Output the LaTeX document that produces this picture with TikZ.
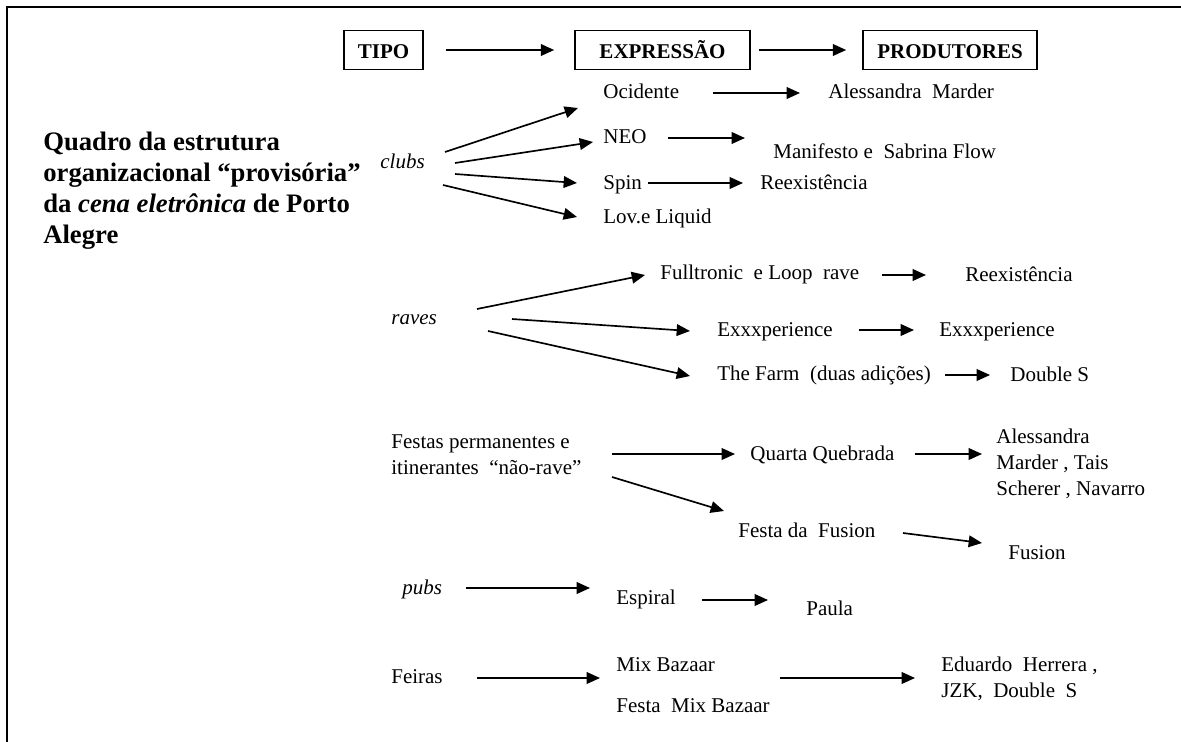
\documentclass[tikz,border=0pt]{standalone}
\usepackage{fontspec}
\setmainfont{Liberation Serif}
\usetikzlibrary{shapes,arrows.meta}
\tikzset{
    cabeca/.style = {draw,
                     rectangle,
                     line width=1pt,
                     minimum height=23.4pt,
                     inner sep=0pt,
                     text height=10.2pt,
                     text depth=0pt,
                     font=\bfseries\fontsize{12.6}{15}\selectfont
    },
    rotulo/.style = {inner sep=0pt,
                     anchor=base west,
                     font=\fontsize{12.6}{15.6}\selectfont
    },
    seta/.style = {-{Triangle[length=8pt,width=7pt]}, line width=1pt}
}

\begin{document}
\begin{tikzpicture}[x=0.6pt,y=-0.6pt]
    \useasboundingbox (0,0) rectangle (1181,742);
    \draw[line width=1.4pt] (7,742) -- (7,7) -- (1181,7);

    % cabecalho
    \node [cabeca, minimum width=47.4pt]  (tipo)  at (383.5,50) {TIPO};
    \node [cabeca, minimum width=105pt]   (expr)  at (662.5,50) {EXPRESSÃO};
    \node [cabeca, minimum width=104.4pt] (prod)  at (950,50)   {PRODUTORES};

    \draw[seta, shorten <=13.2pt, shorten >=12pt]  (tipo) -- (expr);
    \draw[seta, shorten <=4.8pt,  shorten >=9.6pt] (expr) -- (prod);

    \node [rotulo, anchor=west, align=left, font=\bfseries\fontsize{16}{18.6}\selectfont]
          (titulo) at (43,191) {Quadro da estrutura\\organizacional “provisória”\\da \textit{cena eletrônica} de Porto\\Alegre};

    % clubs
    \node [rotulo, font=\itshape\fontsize{12.6}{15.6}\selectfont] (clubs) at (380,168) {clubs};
    \node [rotulo] (ocid)     at (603,99)  {Ocidente};
    \node [rotulo] (almarder) at (828,99)  {Alessandra\ \ Marder};
    \node [rotulo] (neo)      at (603,144) {NEO};
    \node [rotulo] (manif)    at (773,158) {Manifesto e\ \ Sabrina Flow};
    \node [rotulo] (spin)     at (603,189) {Spin};
    \node [rotulo] (reexa)    at (760,189) {Reexistência};
    \node [rotulo] (lov)      at (603,223) {Lov.e Liquid};

    \draw[seta] ([shift={(65,-16)}]clubs.base west) -- ([shift={(-25,9)}]ocid.base west);
    \draw[seta] ([shift={(75,-5)}]clubs.base west)  -- ([shift={(-10,-2)}]neo.base west);
    \draw[seta] ([shift={(75,6)}]clubs.base west)   -- ([shift={(-26,-6)}]spin.base west);
    \draw[seta] ([shift={(63,17)}]clubs.base west)  -- ([shift={(-26,-6)}]lov.base west);
    \draw[seta] ([shift={(110,-6)}]ocid.base west)  -- ([shift={(-28,-6)}]almarder.base west);
    \draw[seta] ([shift={(65,-6)}]neo.base west)    -- ([shift={(-28,-20)}]manif.base west);
    \draw[seta] ([shift={(45,-6)}]spin.base west)   -- ([shift={(-17,-6)}]reexa.base west);

    % raves
    \node [rotulo, font=\itshape\fontsize{12.6}{15.6}\selectfont] (raves) at (391,324) {raves};
    \node [rotulo] (fullt)   at (660,279)  {Fulltronic\ \ e Loop\ \ rave};
    \node [rotulo] (reexb)   at (965,281)  {Reexistência};
    \node [rotulo] (exxp)    at (717,336)  {Exxxperience};
    \node [rotulo] (exxpb)   at (939,336)  {Exxxperience};
    \node [rotulo] (farm)    at (717,380)  {The Farm\ \ (duas adições)};
    \node [rotulo] (doubles) at (1010,381) {Double S};

    \draw[seta] ([shift={(86,-15)}]raves.base west) -- ([shift={(-15,-4)}]fullt.base west);
    \draw[seta] ([shift={(121,-5)}]raves.base west) -- ([shift={(-27,-5)}]exxp.base west);
    \draw[seta] ([shift={(97,7)}]raves.base west)   -- ([shift={(-27,-4)}]farm.base west);
    \draw[seta] ([shift={(222,-4)}]fullt.base west) -- ([shift={(-39,-6)}]reexb.base west);
    \draw[seta] ([shift={(142,-6)}]exxp.base west)  -- ([shift={(-25,-6)}]exxpb.base west);
    \draw[seta] ([shift={(228,-5)}]farm.base west)  -- ([shift={(-20,-6)}]doubles.base west);

    % festas nao-rave
    \node [rotulo, anchor=west, align=left] (festas) at (391,455) {Festas permanentes e\\itinerantes\ \ “não-rave”};
    \node [rotulo] (quarta) at (750,460) {Quarta Quebrada};
    \node [rotulo, anchor=west, align=left] (alessandra) at (996,464) {Alessandra\\Marder , Tais\\Scherer , Navarro};
    \node [rotulo] (festafus) at (738,537) {Festa da\ \ Fusion};
    \node [rotulo] (fusion)   at (1008,559) {Fusion};

    \draw[seta] ([shift={(221,-1)}]festas.west)      -- ([shift={(-15,-6)}]quarta.base west);
    \draw[seta] ([shift={(221,22)}]festas.west)      -- ([shift={(-14,-26)}]festafus.base west);
    \draw[seta] ([shift={(165,-6)}]quarta.base west) -- ([shift={(-14,-10)}]alessandra.west);
    \draw[seta] ([shift={(165,-4)}]festafus.base west) -- ([shift={(-26,-16)}]fusion.base west);

    % pubs
    \node [rotulo, font=\itshape\fontsize{12.6}{15.6}\selectfont] (pubs) at (402,594) {pubs};
    \node [rotulo] (espiral) at (616,604) {Espiral};
    \node [rotulo] (paula)   at (806,615) {Paula};

    \draw[seta] ([shift={(64,-6)}]pubs.base west)    -- ([shift={(-26,-16)}]espiral.base west);
    \draw[seta] ([shift={(86,-4)}]espiral.base west) -- ([shift={(-38,-15)}]paula.base west);

    % feiras
    \node [rotulo] (feiras)   at (391,683) {Feiras};
    \node [rotulo] (mixbz)    at (616,671) {Mix Bazaar};
    \node [rotulo] (festamix) at (616,712) {Festa\ \ Mix Bazaar};
    \node [rotulo, anchor=west, align=left] (eduardo) at (941,679) {Eduardo\ \ Herrera ,\\JZK,\ \ Double\ \ S};

    \draw[seta] ([shift={(86,-5)}]feiras.base west) -- ([shift={(-16,7)}]mixbz.base west);
    \draw[seta] ([shift={(164,7)}]mixbz.base west)  -- ([shift={(-26,-1)}]eduardo.west);
\end{tikzpicture}
\end{document}
